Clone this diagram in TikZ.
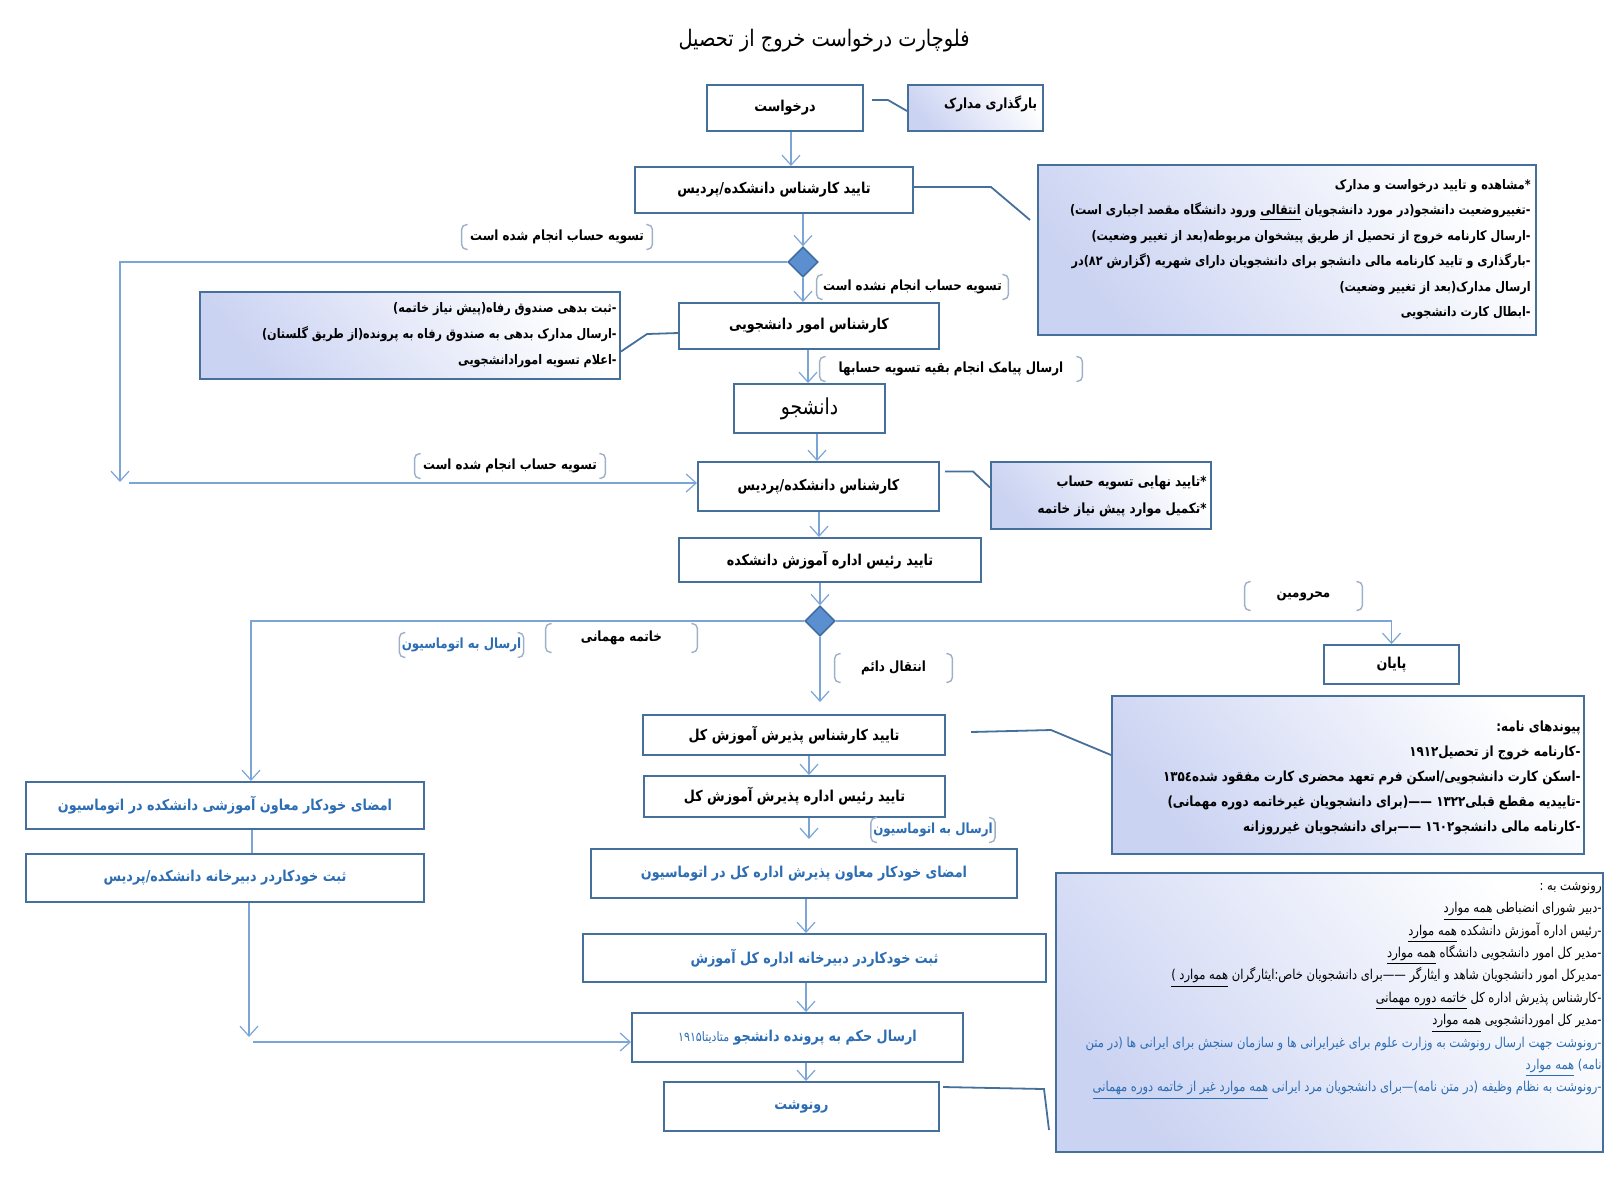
\documentclass[tikz,border=0pt]{standalone}
\usepackage{fontspec}
\usetikzlibrary{arrows.meta,shapes.geometric,calc}
\TeXXeTstate=1
\newfontfamily\fa[Script=Arabic,FakeStretch=0.85]{DejaVu Sans}
\definecolor{boxc}{HTML}{46709C}
\definecolor{connc}{HTML}{7BA5D6}
\definecolor{diaf}{HTML}{5B8FCF}
\definecolor{diab}{HTML}{3F6DA3}
\definecolor{bluet}{HTML}{2C6DB3}
\definecolor{notel}{HTML}{CBD3F2}
\definecolor{brkc}{HTML}{9DB0C8}
\newcommand\ulR[1]{\underline{\beginR #1\endR}}
\newcommand\blab[5][]{%
  \node[brl,minimum width=#4,#1] (#2) at (#3) {#5};
  \draw[brk] ([xshift=3pt]#2.north west) -- (#2.north west) -- (#2.south west) -- ([xshift=3pt]#2.south west);
  \draw[brk] ([xshift=-3pt]#2.north east) -- (#2.north east) -- (#2.south east) -- ([xshift=-3pt]#2.south east);
}
\tikzset{
  box/.style={draw=boxc, line width=1pt, fill=white, font=\fa\bfseries\fontsize{7.5}{10}\selectfont, inner sep=2pt},
  bluebox/.style={box, text=bluet},
  notebox/.style={draw=boxc, line width=1pt, top color=white, bottom color=notel, shading angle=-50, inner sep=0pt},
  notetext/.style={align=right, inner sep=0pt, anchor=north east},
  arr/.style={draw=connc, line width=0.6pt, -{Straight Barb[length=5pt,width=9pt]}},
  conn/.style={draw=connc, line width=0.6pt},
  calln/.style={draw=boxc, line width=0.9pt},
  dia/.style={diamond, draw=diab, fill=diaf, line width=0.8pt, minimum width=15pt, minimum height=15pt, inner sep=0pt},
  brl/.style={font=\fa\bfseries\fontsize{7}{8}\selectfont, inner sep=1pt, minimum height=12pt},
  brk/.style={draw=brkc, line width=0.7pt, rounded corners=2.5pt},
}
\begin{document}
\begin{tikzpicture}[x=0.5pt,y=-0.5pt]
\useasboundingbox (0,0) rectangle (1621,1185);
% title
\node[font=\fa\fontsize{11.4}{14}\selectfont] (title) at (824,41) {\beginR فلوچارت درخواست خروج از تحصیل\endR};
% boxes
\node[box, minimum width=78pt, minimum height=23pt] (req) at (785,108) {\beginR درخواست\endR};
\node[notebox, minimum width=67.5pt, minimum height=23pt] (upload) at (975.5,108) {};
\node[box, font=\fa\bfseries\fontsize{7}{9}\selectfont, fill=none, draw=none, anchor=east] (uploadt) at ([xshift=-1pt,yshift=2pt]upload.east) {\beginR بارگذاری مدارک\endR};
\node[box, minimum width=139pt, minimum height=23pt] (app1) at (774,190) {\beginR تایید کارشناس دانشکده/پردیس\endR};
\node[dia] (d1) at (803,262) {};
\node[box, minimum width=130pt, minimum height=23pt] (sa) at (809,326) {\beginR کارشناس امور دانشجویی\endR};
\node[box, font=\fa\fontsize{11}{12}\selectfont, minimum width=75.5pt, minimum height=24.5pt] (st) at (809.5,408.5) {\beginR دانشجو\endR};
\node[box, minimum width=120.5pt, minimum height=24.5pt] (fac2) at (818.5,486.5) {\beginR کارشناس دانشکده/پردیس\endR};
\node[box, minimum width=151pt, minimum height=22pt] (head) at (830,560) {\beginR تایید رئیس اداره آموزش دانشکده\endR};
\node[dia] (d2) at (820,621) {};
\node[box, minimum width=67.5pt, minimum height=19.5pt] (end) at (1391.5,664.5) {\beginR پایان\endR};
\node[box, minimum width=151pt, minimum height=20pt] (adm1) at (794,735) {\beginR تایید کارشناس پذیرش آموزش کل\endR};
\node[box, minimum width=150.5pt, minimum height=20.5pt] (adm2) at (794.5,796.5) {\beginR تایید رئیس اداره پذیرش آموزش کل\endR};
\node[bluebox, minimum width=213pt, minimum height=24.5pt] (sig1) at (804,873.5) {\beginR امضای خودکار معاون پذیرش اداره کل در اتوماسیون\endR};
\node[bluebox, minimum width=231.5pt, minimum height=24pt] (reg1) at (814.5,958) {\beginR ثبت خودکاردر دبیرخانه اداره کل آموزش\endR};
\node[bluebox, minimum width=165.5pt, minimum height=24.5pt] (send) at (797.5,1037.5) {\beginR ارسال حکم به پرونده دانشجو {\mdseries\fontsize{6.5}{9}\selectfont متادیتا۱۹۱۵}\endR};
\node[bluebox, minimum width=137.5pt, minimum height=24.5pt] (copy) at (801.5,1106.5) {\beginR رونوشت\endR};
\node[bluebox, minimum width=199pt, minimum height=23.5pt] (lsig) at (225,805.5) {\beginR امضای خودکار معاون آموزشی دانشکده در اتوماسیون\endR};
\node[bluebox, minimum width=199pt, minimum height=24pt] (lreg) at (225,878) {\beginR ثبت خودکاردر دبیرخانه دانشکده/پردیس\endR};
% note boxes
\node[notebox, minimum width=249pt, minimum height=85pt] (n1) at (1287,250) {};
\node[notetext, font=\fa\bfseries\fontsize{6.6}{12.7}\selectfont] (n1t) at ([xshift=-3pt,yshift=-7.5pt]n1.north east) {%
\beginR *مشاهده و تایید درخواست و مدارک\endR\\
\beginR -تغییروضعیت دانشجو(در مورد دانشجویان \ulR{انتقالی} ورود دانشگاه مقصد اجباری است)\endR\\
\beginR -ارسال کارنامه خروج از تحصیل از طریق پیشخوان مربوطه(بعد از تغییر وضعیت)\endR\\
\beginR -بارگذاری و تایید کارنامه مالی دانشجو برای دانشجویان دارای شهریه (گزارش ۸۲)در\endR\\
\beginR ارسال مدارک(بعد از تغییر وضعیت)\endR\\
\beginR -ابطال کارت دانشجویی\endR};
\node[notebox, minimum width=210pt, minimum height=43.5pt] (n2) at (410,335.5) {};
\node[notetext, font=\fa\bfseries\fontsize{6.6}{13}\selectfont] (n2t) at ([xshift=-2pt,yshift=-5.5pt]n2.north east) {%
\beginR -ثبت بدهی صندوق رفاه(پیش نیاز خاتمه)\endR\\
\beginR -ارسال مدارک بدهی به صندوق رفاه به پرونده(از طریق گلستان)\endR\\
\beginR -اعلام تسویه امورادانشجویی\endR};
\node[notebox, minimum width=110pt, minimum height=33.5pt] (n3) at (1101,495.5) {};
\node[notetext, font=\fa\bfseries\fontsize{7}{13.5}\selectfont] (n3t) at ([xshift=-2.5pt,yshift=-7pt]n3.north east) {%
\beginR *تایید نهایی تسویه حساب\endR\\
\beginR *تکمیل موارد پیش نیاز خاتمه\endR};
\node[notebox, minimum width=236pt, minimum height=79pt] (n4) at (1348,775) {};
\node[notetext, font=\fa\bfseries\fontsize{7}{12.5}\selectfont] (n4t) at ([xshift=-2pt,yshift=-12.5pt]n4.north east) {%
\beginR پیوندهای نامه:\endR\\
\beginR -کارنامه خروج از تحصیل۱۹۱۲\endR\\
\beginR -اسکن کارت دانشجویی/اسکن فرم تعهد محضری کارت مفقود شده۱۳۵٤\endR\\
\beginR -تاییدیه مقطع قبلی۱۳۲۲ ——(برای دانشجویان غیرخاتمه دوره مهمانی)\endR\\
\beginR -کارنامه مالی دانشجو١٦٠٢ ——برای دانشجویان غیرروزانه\endR};
\node[notebox, minimum width=273.5pt, minimum height=139.5pt] (n5) at (1329.5,1012.5) {};
\node[notetext, font=\fa\fontsize{6.8}{11.2}\selectfont] (n5t) at ([xshift=-1pt,yshift=-5pt]n5.north east) {%
\beginR رونوشت به :\endR\\
\beginR -دبیر شورای انضباطی \ulR{همه موارد}\endR\\
\beginR -رئیس اداره آموزش دانشکده \ulR{همه موارد}\endR\\
\beginR -مدیر کل امور دانشجویی دانشگاه \ulR{همه موارد}\endR\\
\beginR -مدیرکل امور دانشجویان شاهد و ایثارگر ——برای دانشجویان خاص:ایثارگران \ulR{همه موارد )}\endR\\
\beginR -کارشناس پذیرش اداره کل \ulR{خاتمه دوره مهمانی}\endR\\
\beginR -مدیر کل اموردانشجویی \ulR{همه موارد}\endR\\
\color{bluet}\beginR -رونوشت جهت ارسال رونوشت به وزارت علوم برای غیرایرانی ها و سازمان سنجش برای ایرانی ها (در متن\endR\\
\color{bluet}\beginR نامه) \ulR{همه موارد}\endR\\
\color{bluet}\beginR -رونوشت به نظام وظیفه (در متن نامه)—برای دانشجویان مرد ایرانی \ulR{همه موارد غیر از خاتمه دوره مهمانی}\endR};
% bracket labels
\blab{l1}{557,237}{95pt}{\beginR تسویه حساب انجام شده است\endR}
\blab{l2}{912.5,287}{95.5pt}{\beginR تسویه حساب انجام نشده است\endR}
\blab{l3}{951,369}{131pt}{\beginR ارسال پیامک انجام بقیه تسویه حسابها\endR}
\blab{l4}{510,466}{95pt}{\beginR تسویه حساب انجام شده است\endR}
\blab[minimum height=14pt]{l5}{1303.5,596}{58.5pt}{\beginR محرومین\endR}
\blab[minimum height=14pt]{l6}{621.5,638}{75.5pt}{\beginR خاتمه مهمانی\endR}
\blab[text=bluet]{l7}{461.5,645}{58.5pt}{\beginR ارسال به اتوماسیون\endR}
\blab[minimum height=14pt]{l8}{893.5,668}{58.5pt}{\beginR انتقال دائم\endR}
\blab[text=bluet]{l9}{933,830}{57pt}{\beginR ارسال به اتوماسیون\endR}
% column coordinates
\coordinate (xa) at (791,0);
\coordinate (xb) at (808,0);
\coordinate (xc) at (817,0);
\coordinate (xd) at (819,0);
\coordinate (xe) at (251,0);
\coordinate (xf) at (809,0);
\coordinate (xg) at (806,0);
\coordinate (xh) at (252,0);
\coordinate (xl) at (120,482);
\coordinate (xm) at (129,483);
\coordinate (xi) at (249,1037);
\coordinate (xj) at (253,1042);
% connectors
\draw[arr] (req.south -| xa) -- (app1.north -| xa);
\draw[arr] (app1.south -| d1) -- (d1.north);
\draw[arr] (d1.south) -- (sa.north -| d1);
\draw[arr] (d1.west) -| (xl);
\draw[arr] (xm) -- (fac2.west |- xm);
\draw[arr] (sa.south -| xb) -- (st.north -| xb);
\draw[arr] (st.south -| xc) -- (fac2.north -| xc);
\draw[arr] (fac2.south -| xd) -- (head.north -| xd);
\draw[arr] (head.south -| d2) -- (d2.north);
\draw[arr] (d2.east) -| (end.north);
\draw[arr] (d2.west) -| (lsig.north -| xe);
\draw[arr, shorten >=6pt] (d2.south) -- (adm1.north -| d2);
\draw[arr] (adm1.south -| xf) -- (adm2.north -| xf);
\draw[arr, shorten >=4.5pt] (adm2.south -| xf) -- (sig1.north -| xf);
\draw[arr] (sig1.south -| xg) -- (reg1.north -| xg);
\draw[arr] (reg1.south -| xg) -- (send.north -| xg);
\draw[arr] (send.south -| xg) -- (copy.north -| xg);
\draw[conn] (lsig.south -| xh) -- (lreg.north -| xh);
\draw[arr] (lreg.south -| xi) -- (xi);
\draw[arr] (xj) -- (send.west |- xj);
% callout lines
\draw[calln] ([xshift=4pt,yshift=4pt]req.east) -- ++(8pt,0) -- ([yshift=-1.5pt]upload.west);
\draw[calln] ([yshift=1.5pt]app1.east) -- ++(38.5pt,0) -- ([xshift=-3.5pt,yshift=15pt]n1.west);
\draw[calln] ([yshift=-3.5pt]sa.west) -- ++(-15.5pt,-0.5pt) -- ([yshift=-8pt]n2.east);
\draw[calln] ([xshift=2.5pt,yshift=7.5pt]fac2.east) -- ++(14pt,0) -- ([yshift=4pt]n3.west);
\draw[calln] ([xshift=12.5pt,yshift=1.5pt]adm1.east) -- ++(40pt,1pt) -- ([yshift=10pt]n4.west);
\draw[calln] ([xshift=1.5pt,yshift=9.75pt]copy.east) -- ++(50.5pt,-1pt) -- ([xshift=-3pt,yshift=-58.75pt]n5.west);
\end{tikzpicture}
\end{document}
